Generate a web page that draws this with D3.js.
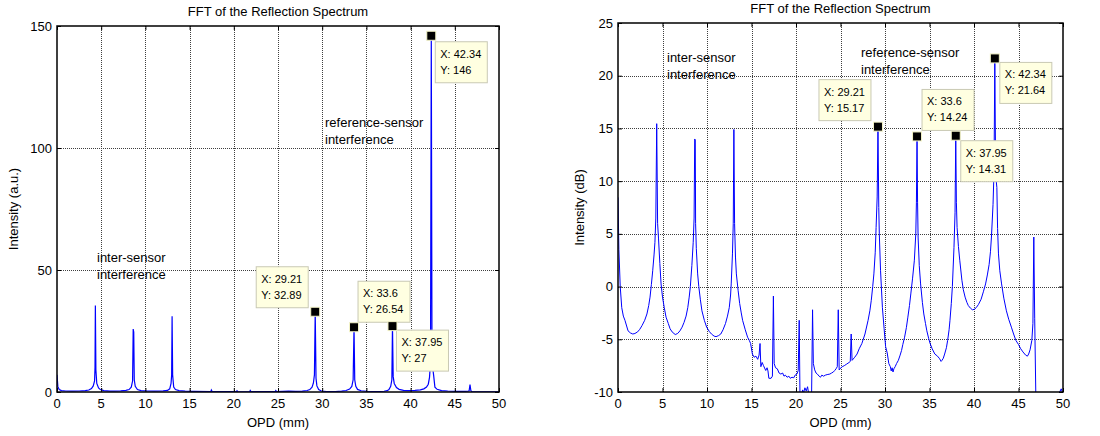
<!DOCTYPE html>
<html><head><meta charset="utf-8">
<script src="https://cdn.jsdelivr.net/npm/d3@7"></script>
<style>body{margin:0;background:#fff} text{font-family:"Liberation Sans",Arial,sans-serif;fill:#000}</style>
</head><body><svg id="c" width="1100" height="436"></svg>
<script>
// ---- data ----
const linOPD = [0,0.1,0.25,0.5,1.0,1.7,2.5,3.2,3.6,3.9,4.1,4.25,4.3,4.34,4.4,4.5,4.7,4.9,5.3,6.0,6.5,7.2,7.8,8.15,8.4,8.55,8.62,8.68,8.74,8.85,9.1,9.5,10.2,11.0,12.0,12.5,12.75,12.9,12.97,13.02,13.08,13.2,13.4,13.8,14.5,15.5,17.4,17.46,17.55,20.3,20.36,20.45,21.8,21.86,21.95,24.7,24.75,24.85,26.2,27.0,27.75,28.3,28.6,28.85,29.0,29.12,29.21,29.3,29.4,29.6,29.9,30.5,31.5,32.2,32.7,33.1,33.35,33.5,33.6,33.68,33.8,34.0,34.4,35.0,36.2,37.0,37.35,37.55,37.75,37.88,37.95,38.03,38.15,38.4,38.7,39.2,39.8,40.5,41.1,41.5,41.8,42.0,42.14,42.25,42.34,42.42,42.5,42.6,42.75,43.0,43.5,44.2,45.2,46.1,46.5,46.62,46.72,46.82,46.95,50];
const linIntensity = [7.1,2.2,1.0,0.55,0.4,0.35,0.4,0.55,0.8,1.4,2.5,4.5,10,35.4,9,3.5,1.7,1.0,0.6,0.37,0.35,0.45,0.65,1.0,2.0,4.5,25.8,24.6,5,2.3,1.0,0.55,0.4,0.33,0.45,0.65,1.3,3.5,7,31.0,7,2.0,1.0,0.55,0.33,0.22,0.14,0.8,0.15,0.15,0.48,0.1,0.1,0.6,0.17,0.17,0.6,0.17,0.35,0.25,0.35,0.6,1.0,2.0,3.6,7,32.89,5.6,2.5,1.0,0.4,0.18,0.2,0.33,0.6,1.2,2.3,5,26.54,5,2.3,1.06,0.5,0.3,0.2,0.3,0.55,1.0,2.3,5,27,6.3,3.5,1.8,1.1,0.7,0.6,0.68,0.9,1.3,2.0,3.2,6,12,146,15,10,7,2.0,1.1,0.6,0.4,0.26,0.23,0.3,0.45,3.0,0.5,0.05,0.05];

const dbOPD = [0,0.1,0.25,0.42,0.6,0.78,1.13,1.4,1.66,1.9,2.2,2.45,2.7,3.0,3.25,3.45,3.6,3.75,3.9,4.05,4.15,4.25,4.35,4.45,4.55,4.7,4.84,5.0,5.2,5.4,5.65,5.85,6.08,6.43,6.7,6.96,7.2,7.42,7.65,7.84,8.0,8.13,8.3,8.45,8.55,8.62,8.68,8.72,8.8,8.95,9.08,9.25,9.43,9.7,9.96,10.25,10.5,10.8,11.02,11.3,11.55,11.8,12.08,12.3,12.5,12.65,12.72,12.86,12.95,13.02,13.1,13.2,13.3,13.5,13.67,13.85,14.0,14.3,14.56,14.75,14.9,15.1,15.3,15.5,15.7,15.85,15.96,16.05,16.2,16.35,16.6,16.75,16.85,16.95,17.2,17.35,17.46,17.55,17.7,17.9,18.1,18.3,18.5,18.65,18.8,19.0,19.2,19.36,19.55,19.75,19.9,20.1,20.25,20.36,20.45,20.6,20.75,20.85,21.0,21.15,21.3,21.45,21.6,21.75,21.86,21.95,22.1,22.25,22.4,22.6,22.75,22.9,23.1,23.3,23.5,23.8,24.0,24.2,24.35,24.5,24.64,24.75,24.85,24.93,25.2,25.43,25.7,25.96,26.1,26.2,26.3,26.6,26.86,27.1,27.4,27.75,28.1,28.3,28.46,28.62,28.75,28.9,29.0,29.12,29.21,29.3,29.36,29.5,29.71,29.9,30.07,30.25,30.43,30.6,30.7,30.8,30.9,31.0,31.14,31.3,31.5,31.7,31.86,32.0,32.2,32.4,32.57,32.75,32.9,33.1,33.3,33.46,33.53,33.6,33.66,33.72,33.85,34.0,34.2,34.36,34.55,34.7,34.9,35.07,35.3,35.6,35.9,36.14,36.3,36.4,36.55,36.7,36.9,37.04,37.2,37.3,37.45,37.57,37.75,37.87,37.95,38.02,38.1,38.25,38.4,38.64,38.8,39.0,39.2,39.36,39.6,39.82,40.05,40.25,40.5,40.8,41.05,41.3,41.5,41.7,41.85,41.96,42.14,42.25,42.34,42.42,42.5,42.57,42.65,42.75,42.9,43.1,43.35,43.64,43.9,44.2,44.45,44.7,45.0,45.25,45.5,45.8,46.0,46.14,46.3,46.5,46.62,46.72,46.82,46.95,47.5,48.5,49.5,49.8,50];
const dbIntensity = [8.46,3.5,0,-2,-2.8,-3.2,-4.2,-4.4,-4.5,-4.45,-4.3,-4.05,-3.7,-3.2,-2.6,-1.8,-1,0.2,1.5,3.0,4.2,6.5,15.45,6,4.6,2.2,0.25,-1.0,-2,-2.9,-3.5,-4.0,-4.3,-4.55,-4.45,-4.2,-3.85,-3.4,-2.8,-2,-1,0,2.0,4.2,6.5,14.0,13.9,6.0,3.6,1.2,0,-1.2,-2.3,-3.2,-3.85,-4.25,-4.5,-4.7,-4.75,-4.65,-4.5,-4.1,-3.5,-2.8,-2,-0.8,0.25,3.1,6,14.9,6,2.8,1.2,-0.4,-1.6,-2.5,-3.2,-4.1,-4.8,-5.1,-5.4,-6.4,-6.7,-6.6,-6.9,-6.5,-5.4,-7.6,-7.2,-7.5,-7.96,-7.7,-8.0,-8.7,-8.7,-8.5,-0.9,-7.3,-7.7,-7.8,-8.2,-8.3,-8.2,-8.5,-8.4,-8.6,-8.5,-8.7,-8.6,-8.65,-8.4,-8.3,-7.96,-3.2,-10.5,-10.4,-9.8,-10.1,-9.6,-9.9,-9.5,-10.3,-10.6,-10.4,-2.2,-7.3,-7.9,-8.2,-8.3,-8.5,-8.6,-8.4,-8.5,-8.4,-8.35,-8.3,-8.2,-8.1,-7.96,-7.8,-7.6,-2.2,-7.9,-7.8,-7.6,-7.5,-7.35,-7.2,-7.1,-4.5,-7.0,-6.7,-6.4,-5.9,-5.4,-4.5,-3.2,-2.3,-1.3,0,1.2,3.2,5.6,8.5,15.17,7.5,5,1.5,-2,-4,-5.7,-6.3,-7.3,-7.6,-8.0,-7.7,-8.1,-7.8,-7.6,-7.3,-7.0,-6.5,-6.06,-5.5,-4.8,-3.9,-2.9,-1.8,-0.7,0.8,2.5,5,8,14.24,8,4.7,2.0,0.25,-1.5,-2.6,-3.5,-4.2,-4.9,-5.4,-5.9,-6.4,-6.6,-6.85,-7.1,-7.0,-6.8,-6.4,-5.8,-5.1,-4.1,-3.2,-1.6,0,3.7,7,14.31,8,5.6,3.8,2.5,0.6,-0.3,-1.0,-1.5,-1.8,-2.05,-2.2,-2.15,-2.0,-1.7,-1.2,-0.5,0.25,1.1,2.1,3.3,4.7,7.8,11,21.64,12,10,9.4,5.5,3.1,1.5,0.25,-1.1,-2.3,-3.1,-3.85,-4.5,-5.1,-5.5,-5.9,-6.2,-6.5,-6.6,-6.4,-6.0,-5.1,-3.5,4.7,-3,-10.5,-10.4,-10.5,-10.2,-9.7,-10.2];

const xTicks = [0,5,10,15,20,25,30,35,40,45,50];
const linYTicks = [0,50,100,150];
const dbYTicks = [-10,-5,0,5,10,15,20,25];
const tipOPD = [29.21,33.6,37.95,42.34];
const tipOPDLabel = ["29.21","33.6","37.95","42.34"];
const linTipY = [32.89,26.54,27,146];
const linTipLabel = ["32.89","26.54","27","146"];
const dbTipY = [15.17,14.24,14.31,21.64];
const dbTipLabel = ["15.17","14.24","14.31","21.64"];

// ---- drawing ----
const svg = d3.select("#c");

function panel(cfg){
  const g = svg.append("g");
  const x = d3.scaleLinear().domain([0,50]).range([cfg.x0, cfg.x1]);
  const y = d3.scaleLinear().domain(cfg.yDomain).range([cfg.y1, cfg.y0]);
  const id = "clip" + cfg.name;
  svg.append("clipPath").attr("id", id).append("rect")
    .attr("x", cfg.x0).attr("y", cfg.y0).attr("width", cfg.x1-cfg.x0).attr("height", cfg.y1-cfg.y0);
  // grid
  const grid = g.append("g").attr("stroke","#000").attr("stroke-width",1).attr("stroke-dasharray","1,1").attr("opacity",0.75);
  xTicks.slice(1,-1).forEach(t => grid.append("line").attr("x1",Math.round(x(t))+0.5).attr("x2",Math.round(x(t))+0.5).attr("y1",cfg.y0).attr("y2",cfg.y1));
  cfg.yTicks.slice(1,-1).forEach(t => grid.append("line").attr("y1",Math.round(y(t))+0.5).attr("y2",Math.round(y(t))+0.5).attr("x1",cfg.x0).attr("x2",cfg.x1));
  // line
  const pts = cfg.xs.map((v,i)=>[v, cfg.ys[i]]);
  g.append("path").attr("clip-path",`url(#${id})`).datum(pts)
    .attr("fill","none").attr("stroke","#0000ff").attr("stroke-width",cfg.lw)
    .attr("d", d3.line().x(d=>x(d[0])).y(d=>y(d[1])));
  // axes (box with inner ticks)
  const fmt = d => String(d);
  const ax = (a, tr, ticks, sz) => g.append("g").attr("transform",tr)
    .call(a.tickValues(ticks).tickSize(sz).tickPadding(0).tickFormat(""))
    .call(s=>{s.select(".domain").remove(); s.selectAll(".tick line").attr("stroke","#000");});
  ax(d3.axisBottom(x), `translate(0,${cfg.y1})`, xTicks, -4);
  ax(d3.axisTop(x), `translate(0,${cfg.y0})`, xTicks, -4);
  ax(d3.axisLeft(y), `translate(${cfg.x0},0)`, cfg.yTicks, -4);
  ax(d3.axisRight(y), `translate(${cfg.x1},0)`, cfg.yTicks, -4);
  g.append("rect").attr("x",cfg.x0).attr("y",cfg.y0).attr("width",cfg.x1-cfg.x0).attr("height",cfg.y1-cfg.y0)
    .attr("fill","none").attr("stroke","#000").attr("stroke-width",1.5);
  // tick labels
  g.append("g").selectAll("text").data(xTicks).join("text")
    .attr("x",d=>x(d)).attr("y",cfg.y1+16).attr("text-anchor","middle").attr("font-size",13).text(fmt);
  g.append("g").selectAll("text").data(cfg.yTicks).join("text")
    .attr("x",cfg.x0-5).attr("y",d=>y(d)+4.5).attr("text-anchor","end").attr("font-size",13).text(fmt);
  // titles
  g.append("text").attr("x",(cfg.x0+cfg.x1)/2).attr("y",cfg.titleY).attr("text-anchor","middle").attr("font-size",13).text("FFT of the Reflection Spectrum");
  g.append("text").attr("x",(cfg.x0+cfg.x1)/2).attr("y",427).attr("text-anchor","middle").attr("font-size",13).text("OPD (mm)");
  g.append("text").attr("transform",`translate(${cfg.ylabX},${(cfg.y0+cfg.y1)/2}) rotate(-90)`).attr("text-anchor","middle").attr("font-size",13).text(cfg.ylabel);
  // annotations
  cfg.notes.forEach(n => {
    const t = g.append("text").attr("font-size",13);
    t.append("tspan").attr("x",n[0]).attr("y",n[1]).text(n[2]);
    t.append("tspan").attr("x",n[0]).attr("y",n[1]+17).text("interference");
  });
  // data tips
  tipOPD.forEach((tx,i)=>{
    const mx = x(tx), my = y(cfg.tipY[i]);
    const off = cfg.tipOff[i];
    const bx = mx + off[0], by = my + off[1];
    g.append("rect").attr("x",bx).attr("y",by).attr("width",52).attr("height",41)
      .attr("fill","#ffffe1").attr("stroke","#c9c9b4").attr("stroke-width",1);
    g.append("text").attr("x",bx+5).attr("y",by+16).attr("font-size",11).text("X: "+tipOPDLabel[i]);
    g.append("text").attr("x",bx+5).attr("y",by+32).attr("font-size",11).text("Y: "+cfg.tipLabel[i]);
    g.append("rect").attr("x",mx-4.5).attr("y",my-4.5).attr("width",9).attr("height",9)
      .attr("fill","#000").attr("stroke","#f4f4c8").attr("stroke-width",1);
  });
}

panel({name:"L", x0:57, x1:499, y0:26, y1:392, yDomain:[0,150], yTicks:linYTicks,
  xs:linOPD, ys:linIntensity, lw:1.2, titleY:16, ylabX:18, ylabel:"Intensity (a.u.)",
  notes:[[325,127,"reference-sensor"],[97,262,"inter-sensor"]],
  tipY:linTipY, tipLabel:linTipLabel,
  tipOff:[[-59,-45],[4,-46],[4,4],[4,6]]});

panel({name:"R", x0:618, x1:1063, y0:23, y1:392, yDomain:[-10,25], yTicks:dbYTicks,
  xs:dbOPD, ys:dbIntensity, lw:1, titleY:13, ylabX:584, ylabel:"Intensity (dB)",
  notes:[[861,57,"reference-sensor"],[667,62,"inter-sensor"]],
  tipY:dbTipY, tipLabel:dbTipLabel,
  tipOff:[[-59,-47],[5,-47],[5,5],[5,4]]});
</script></body></html>
